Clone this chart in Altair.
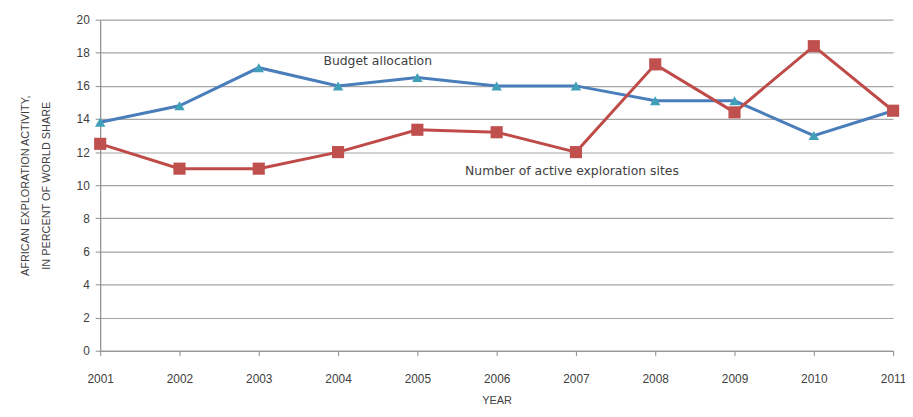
import altair as alt
import pandas as pd

years = [2001, 2002, 2003, 2004, 2005, 2006, 2007, 2008, 2009, 2010, 2011]
budget = [13.8, 14.8, 17.1, 16.0, 16.5, 16.0, 16.0, 15.1, 15.1, 13.0, 14.5]
sites = [12.5, 11.0, 11.0, 12.0, 13.35, 13.2, 12.0, 17.3, 14.4, 18.4, 14.5]
series_names = ["Budget allocation", "Number of active exploration sites"]
label_years = [2004.5, 2006.95]
label_values = [17.5, 10.85]
y_ticks = [0, 2, 4, 6, 8, 10, 12, 14, 16, 18, 20]

FONT = "Liberation Sans"
TXT = "#404040"

df_b = pd.DataFrame({"year": years, "value": budget})
df_s = pd.DataFrame({"year": years, "value": sites})
df_l = pd.DataFrame({"year": label_years, "value": label_values, "label": series_names})

x = alt.X("year:Q",
          scale=alt.Scale(domain=[2001, 2011], nice=False, zero=False),
          axis=alt.Axis(title="YEAR", values=years, format="d", grid=False,
                        tickSize=5, labelPadding=18, titlePadding=10,
                        labelOverlap=False, labelFlush=False))
y = alt.Y("value:Q",
          scale=alt.Scale(domain=[0, 20], nice=False),
          axis=alt.Axis(title=["AFRICAN EXPLORATION ACTIVITY,", "IN PERCENT OF WORLD SHARE"],
                        values=y_ticks, grid=True, tickSize=5, labelPadding=6,
                        titlePadding=25, titleLineHeight=21, domain=True,
                        labelOverlap=False, labelFlush=False))

base_b = alt.Chart(df_b).encode(x=x, y=y)
base_s = alt.Chart(df_s).encode(x=x, y=y)

line_b = base_b.mark_line(color="#4A7EBB", strokeWidth=3)
pts_b = base_b.mark_point(shape="triangle-up", filled=True, size=110, color="#3FA0B8", opacity=1)
line_s = base_s.mark_line(color="#BE4B48", strokeWidth=3)
pts_s = base_s.mark_point(shape="square", filled=True, size=150, color="#C0504D", opacity=1)

labels = alt.Chart(df_l).mark_text(font="DejaVu Sans", fontSize=12.5, color=TXT).encode(
    x=x, y=y, text="label:N")

chart = alt.layer(line_b, line_s, pts_b, pts_s, labels).properties(
    width=800, height=334,
    background="white",
    autosize=alt.AutoSizeParams(type="none"),
    padding={"left": 93, "top": 10, "right": 12, "bottom": 57},
).configure_view(stroke=None).configure_axis(
    labelFont=FONT, titleFont=FONT, labelFontSize=12, titleFontSize=11,
    labelColor=TXT, titleColor=TXT, titleFontWeight="normal",
    domainColor="#8c8c8c", tickColor="#8c8c8c", gridColor="#a6a6a6",
    gridWidth=1.2, domainWidth=1.2,
)

chart.save("out.html", embed_options={"renderer": "svg", "actions": False})
